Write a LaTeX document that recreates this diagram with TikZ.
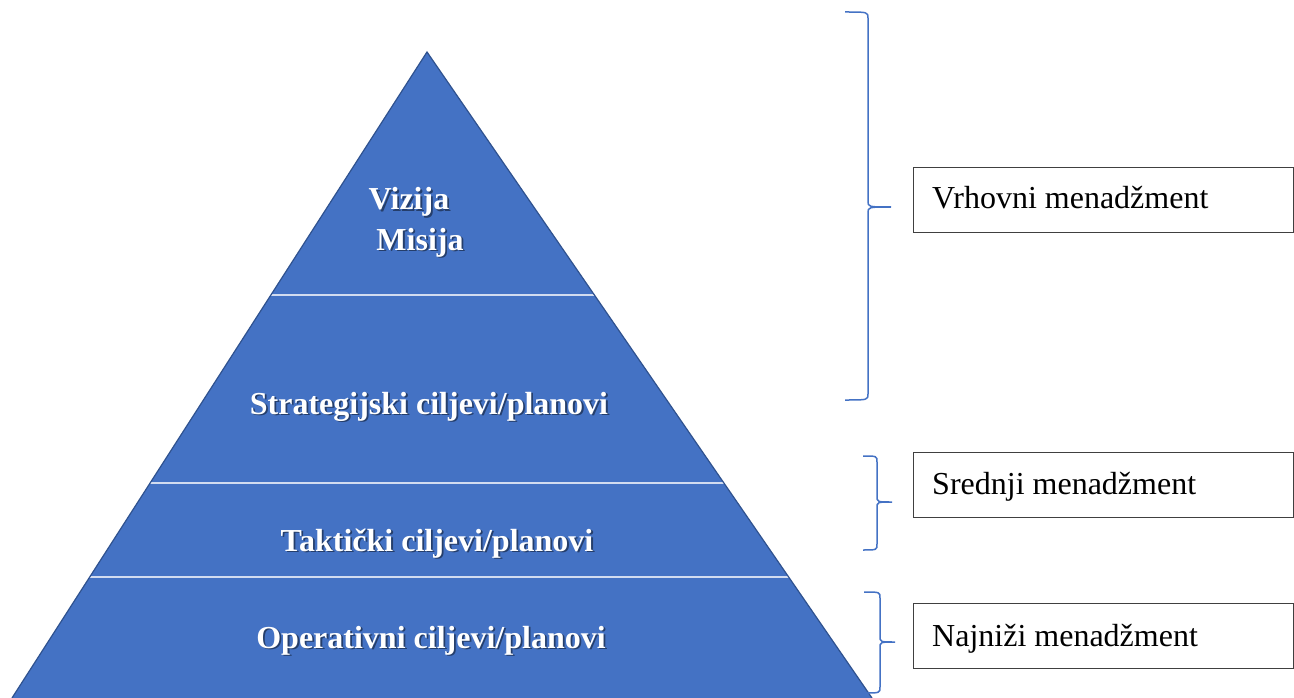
\documentclass[tikz,border=0pt]{standalone}
\usepackage{fontspec}
\setmainfont{Liberation Serif}
\definecolor{pyrfill}{HTML}{4472C4}
\definecolor{pyredge}{HTML}{2F528F}
\definecolor{sepline}{HTML}{D2DCF0}
\definecolor{bracecol}{HTML}{4472C4}
\definecolor{boxedge}{HTML}{404040}
\tikzset{
  lvltext/.style={text=white,font=\fontsize{32}{38}\selectfont\bfseries,inner sep=0pt,anchor=base},
  lvlshadow/.style={text=black,opacity=0.45,font=\fontsize{32}{38}\selectfont\bfseries,inner sep=0pt,anchor=base},
  mgrbox/.style={draw=boxedge,line width=1.3pt,minimum width=380pt,minimum height=65pt,inner sep=0pt,anchor=north west},
  mgrtext/.style={font=\fontsize{32}{38}\selectfont,inner sep=0pt,anchor=base west},
  bracestyle/.style={draw=bracecol,line width=1.5pt}
}
\begin{document}
\begin{tikzpicture}[x=1pt,y=-1pt]
\useasboundingbox (0,0) rectangle (1294,698);
% pyramid
\coordinate (apex) at (427,52);
\coordinate (bl) at (12,698);
\coordinate (br) at (872,698);
\fill[pyrfill] (apex) -- (br) -- (bl) -- cycle;
\begin{scope}
\clip (apex) -- (br) -- (bl) -- cycle;
\draw[sepline,line width=2pt] (0,295) -- (900,295);
\draw[sepline,line width=2pt] (0,483) -- (900,483);
\draw[sepline,line width=2pt] (0,577) -- (900,577);
\end{scope}
\draw[pyredge,line width=1.2pt,line join=miter] (bl) -- (apex) -- (br);
% level texts
\foreach \nm/\xx/\yy/\tx in {viz/409/210/Vizija, mis/420/250/Misija, str/429/414/{Strategijski ciljevi/planovi}, tak/437/551/{Taktički ciljevi/planovi}, ope/431/648/{Operativni ciljevi/planovi}}{
  \node[lvlshadow] (\nm s) at (\xx+1.8,\yy+1.8) {\tx};
  \node[lvltext] (\nm) at (\xx,\yy) {\tx};
}
% boxes
\node[mgrbox] (b1) at (913,167) {};
\node[mgrtext] (t1) at (932,208) {Vrhovni menadžment};
\node[mgrbox] (b2) at (913,452) {};
\node[mgrtext] (t2) at (932,494) {Srednji menadžment};
\node[mgrbox] (b3) at (913,603) {};
\node[mgrtext] (t3) at (932,646) {Najniži menadžment};
% braces
\foreach \xa/\xv/\xt/\yt/\ym/\yb in {845/868/891/12/207/400, 863/877/892/456/502/550, 864/880/895/592/642/693}{
  \draw[bracestyle] (\xa,\yt) .. controls (\xv,\yt) .. (\xv,\yt+6) -- (\xv,\ym-6)
     .. controls (\xv,\ym) .. (\xt,\ym) .. controls (\xv,\ym) .. (\xv,\ym+6)
     -- (\xv,\yb-6) .. controls (\xv,\yb) .. (\xa,\yb);
}
\end{tikzpicture}
\end{document}
